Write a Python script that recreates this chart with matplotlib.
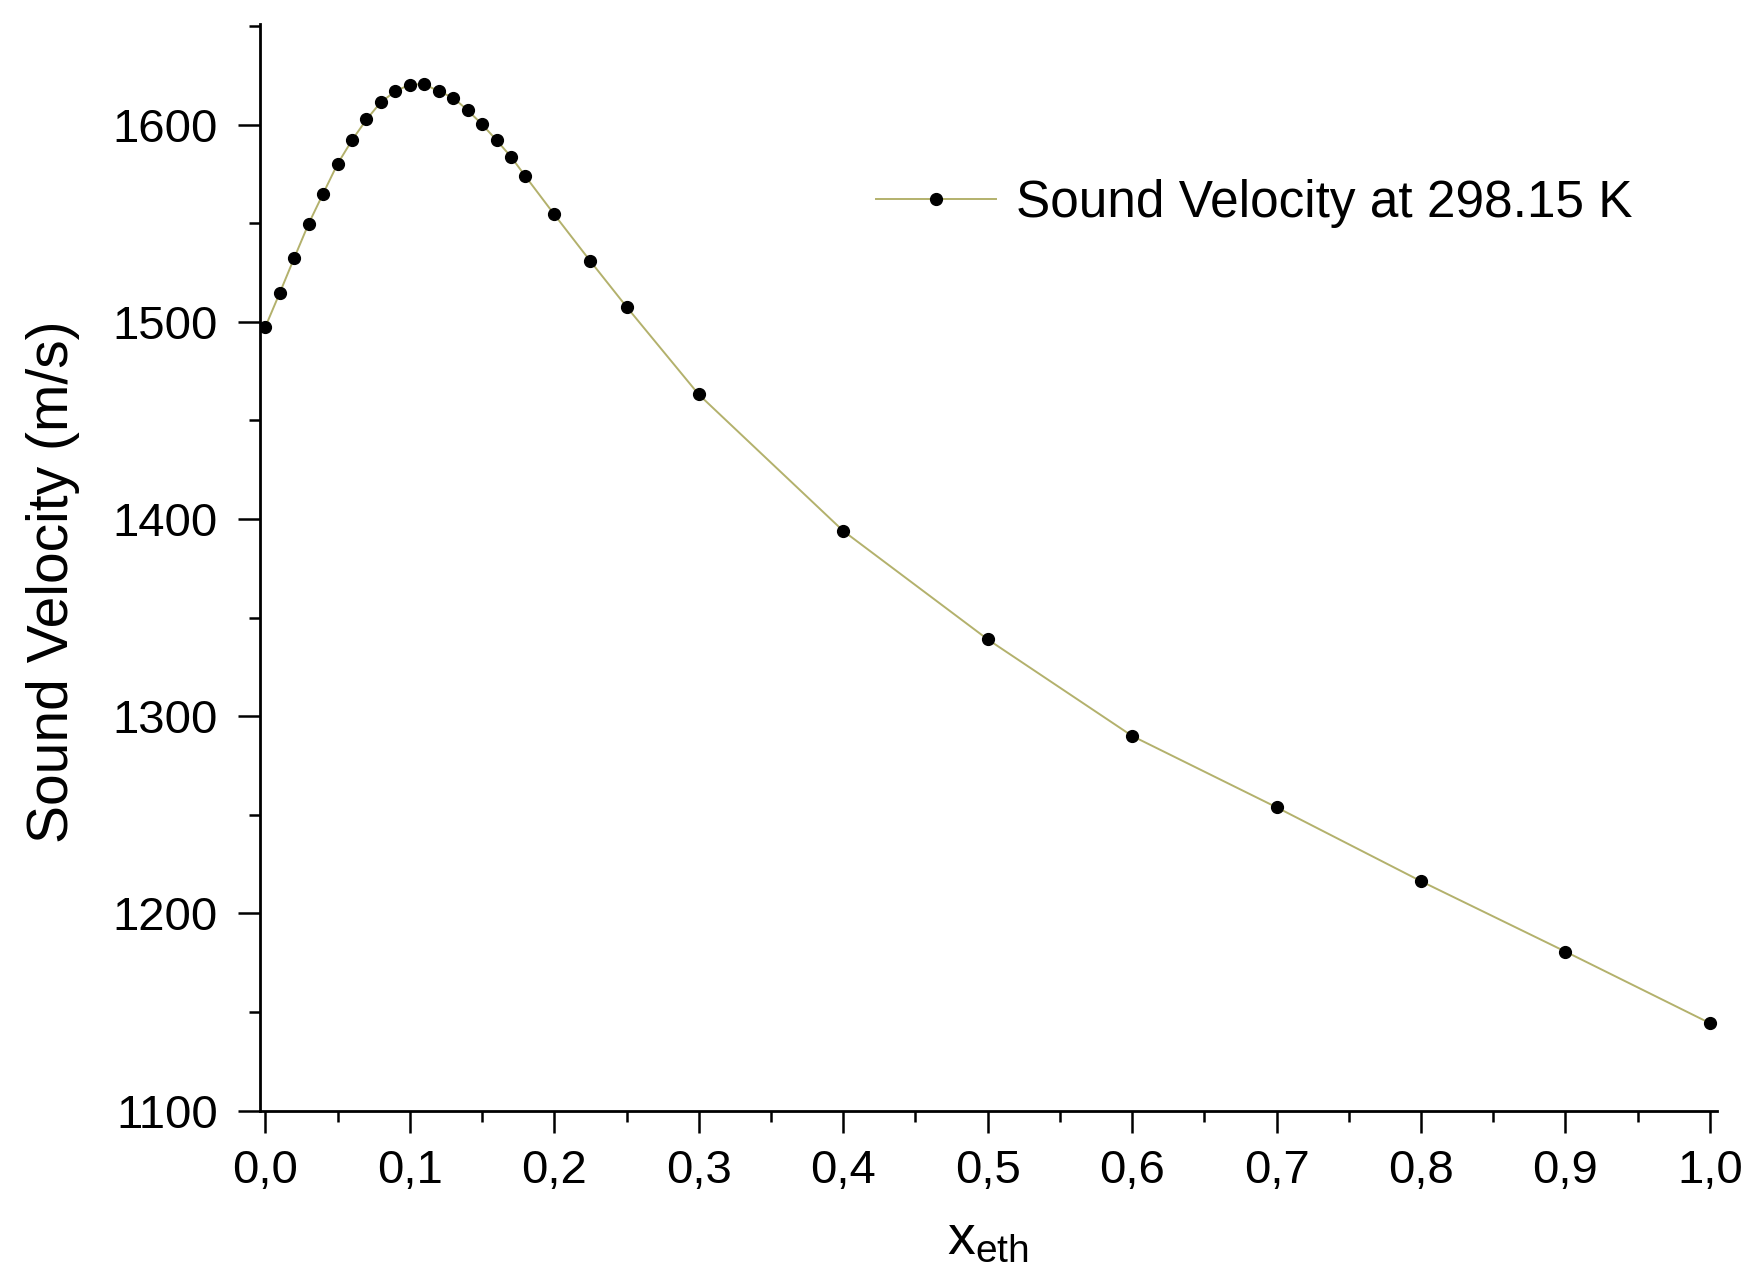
import numpy as np
import matplotlib
matplotlib.use("Agg")
import matplotlib.pyplot as plt
from matplotlib.ticker import MultipleLocator

plt.rcParams["font.family"] = ["Liberation Sans", "DejaVu Sans"]
plt.rcParams["mathtext.fontset"] = "custom"
plt.rcParams["mathtext.rm"] = "Liberation Sans"
plt.rcParams["mathtext.it"] = "Liberation Sans"

# mole fraction of ethanol and measured sound velocity (m/s)
x_eth = [0.00, 0.01, 0.02, 0.03, 0.04, 0.05, 0.06, 0.07, 0.08, 0.09,
         0.10, 0.11, 0.12, 0.13, 0.14, 0.15, 0.16, 0.17, 0.18,
         0.20, 0.225, 0.25, 0.30, 0.40, 0.50, 0.60, 0.70, 0.80, 0.90, 1.00]
velocity = [1497.5, 1514.8, 1532.5, 1549.9, 1565.1, 1580.2, 1592.2, 1602.7, 1611.5, 1617.0,
            1620.4, 1620.6, 1617.0, 1613.7, 1607.4, 1600.2, 1592.2, 1583.8, 1573.9,
            1554.5, 1530.8, 1507.7, 1463.2, 1394.0, 1339.0, 1290.0, 1253.8, 1216.3, 1180.6, 1144.3]

x_ticks = [0.0, 0.1, 0.2, 0.3, 0.4, 0.5, 0.6, 0.7, 0.8, 0.9, 1.0]
x_ticklabels = ["0,0", "0,1", "0,2", "0,3", "0,4", "0,5", "0,6", "0,7", "0,8", "0,9", "1,0"]
y_ticks = [1100, 1200, 1300, 1400, 1500, 1600]

fig = plt.figure(figsize=(17.54, 12.75), dpi=100)
ax = fig.add_axes([0.148, 0.129, 0.831, 0.852])

ax.plot(x_eth, velocity, color="#b3b16c", linewidth=1.4,
        marker="o", markersize=8.5, markerfacecolor="black", markeredgecolor="black",
        label="Sound Velocity at 298.15 K")

ax.set_xlim(-0.004, 1.005)
ax.set_ylim(1100, 1651)

ax.set_xticks(x_ticks)
ax.set_xticklabels(x_ticklabels)
ax.xaxis.set_minor_locator(MultipleLocator(0.05))
ax.set_yticks(y_ticks)
ax.yaxis.set_minor_locator(MultipleLocator(50))

for side in ["top", "right"]:
    ax.spines[side].set_visible(False)
for side in ["left", "bottom"]:
    ax.spines[side].set_linewidth(2.0)

ax.tick_params(which="major", direction="out", length=16, width=1.8, labelsize=34)
ax.tick_params(which="minor", direction="out", length=8, width=1.8)
ax.tick_params(axis="y", which="major", pad=14)
ax.tick_params(axis="x", which="major", pad=12)

ax.set_ylabel("Sound Velocity (m/s)", fontsize=41)
ax.yaxis.set_label_coords(-0.123, 0.487)
ax.set_xlabel(r"x$_{\mathrm{eth}}$", fontsize=40, labelpad=15)

ax.legend(loc="center left", bbox_to_anchor=(0.423, 0.835), frameon=False,
          fontsize=37, handlelength=2.33, handletextpad=0.4,
          borderpad=0, borderaxespad=0)

fig.savefig("out.png", dpi=100)
